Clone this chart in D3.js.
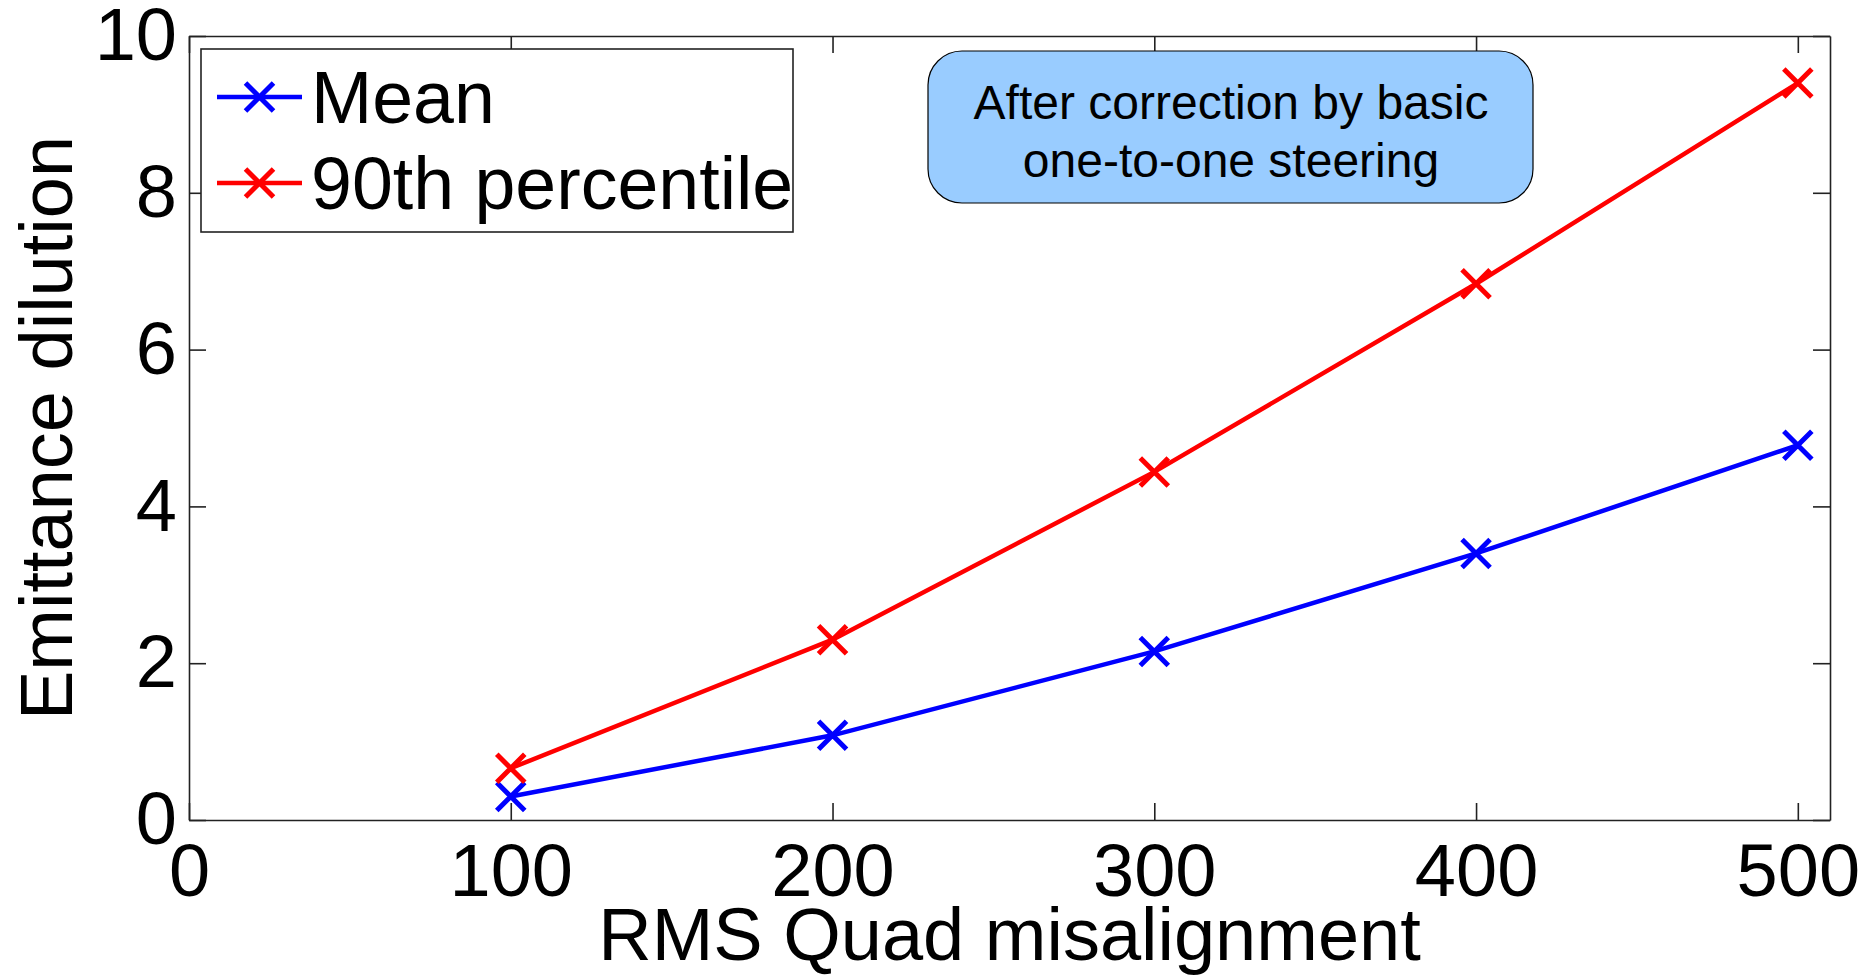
<!DOCTYPE html>
<html>
<head>
<meta charset="utf-8">
<script src="https://cdn.jsdelivr.net/npm/d3@7"></script>
<style>
  html, body { margin: 0; padding: 0; background: #fff; }
  svg { display: block; font-family: "Liberation Sans", Arial, Helvetica, sans-serif; }
</style>
</head>
<body>
<svg id="chart" width="1871" height="977"></svg>
<script>
// ---- data ----
const xValues = [100, 200, 300, 400, 500];
const meanValues = [0.30, 1.08, 2.15, 3.40, 4.78];
const p90Values = [0.66, 2.30, 4.44, 6.84, 9.40];
const xTicks = [0, 100, 200, 300, 400, 500];
const yTicks = [0, 2, 4, 6, 8, 10];
const seriesNames = ["Mean", "90th percentile"];
const seriesColors = ["#0000ff", "#ff0000"];
const xLabel = "RMS Quad misalignment";
const yLabel = "Emittance dilution";
const noteLines = ["After correction by basic", "one-to-one steering"];

// ---- layout ----
const W = 1871, H = 977;
const L = 189, R = 1830, T = 36, B = 820;
const svg = d3.select("#chart");

const x = d3.scaleLinear().domain([0, 510]).range([L, R]);
const y = d3.scaleLinear().domain([0, 10]).range([B, T]);

const tickLen = 17;
const axisColor = "#222";

function styleAxis(g, showLabels) {
  g.selectAll(".domain").attr("stroke", axisColor).attr("stroke-width", 1.6);
  g.selectAll(".tick line").attr("stroke", axisColor).attr("stroke-width", 1.6);
  if (showLabels) {
    g.selectAll(".tick text").attr("fill", "#000").style("font-size", "74px");
  } else {
    g.selectAll(".tick text").remove();
  }
}

// bottom
svg.append("g").attr("transform", `translate(0,${B})`)
  .call(d3.axisBottom(x).tickValues(xTicks).tickSizeInner(-tickLen).tickSizeOuter(0).tickPadding(23).tickFormat(d3.format("d")))
  .call(g => styleAxis(g, true));
// top
svg.append("g").attr("transform", `translate(0,${T})`)
  .call(d3.axisTop(x).tickValues(xTicks).tickSizeInner(-tickLen).tickSizeOuter(0))
  .call(g => styleAxis(g, false));
// left
svg.append("g").attr("transform", `translate(${L},0)`)
  .call(d3.axisLeft(y).tickValues(yTicks).tickSizeInner(-tickLen).tickSizeOuter(0).tickPadding(12).tickFormat(d3.format("d")))
  .call(g => styleAxis(g, true));
// right
svg.append("g").attr("transform", `translate(${R},0)`)
  .call(d3.axisRight(y).tickValues(yTicks).tickSizeInner(-tickLen).tickSizeOuter(0))
  .call(g => styleAxis(g, false));

// axis labels
svg.append("text")
  .attr("x", (L + R) / 2).attr("y", 960)
  .attr("text-anchor", "middle")
  .style("font-size", "74px").attr("fill", "#000")
  .text(xLabel);

svg.append("text")
  .attr("transform", `translate(72,${(T + B) / 2}) rotate(-90)`)
  .attr("text-anchor", "middle")
  .style("font-size", "74px").attr("fill", "#000")
  .text(yLabel);

// series
const series = [meanValues, p90Values];
const line = d3.line().x((d, i) => x(xValues[i])).y(d => y(d));
const mk = 14;

function drawCross(g, cx, cy, color, size) {
  g.append("path")
    .attr("d", `M${cx - size},${cy - size}L${cx + size},${cy + size}M${cx - size},${cy + size}L${cx + size},${cy - size}`)
    .attr("stroke", color).attr("stroke-width", 5).attr("fill", "none");
}

series.forEach((vals, si) => {
  const g = svg.append("g");
  g.append("path").datum(vals)
    .attr("d", line)
    .attr("fill", "none")
    .attr("stroke", seriesColors[si])
    .attr("stroke-width", 4.5);
  vals.forEach((v, i) => drawCross(g, x(xValues[i]), y(v), seriesColors[si], mk));
});

// legend
const lg = svg.append("g");
lg.append("rect").attr("x", 201).attr("y", 49).attr("width", 592).attr("height", 183)
  .attr("fill", "#fff").attr("stroke", axisColor).attr("stroke-width", 1.6);
const legendY = [97, 183];
seriesNames.forEach((name, i) => {
  lg.append("line").attr("x1", 217).attr("x2", 302).attr("y1", legendY[i]).attr("y2", legendY[i])
    .attr("stroke", seriesColors[i]).attr("stroke-width", 4.5);
  drawCross(lg, 259.5, legendY[i], seriesColors[i], mk);
  lg.append("text").attr("x", 311).attr("y", legendY[i] + 26)
    .style("font-size", "73.5px").attr("fill", "#000").text(name);
});

// annotation box
const ng = svg.append("g");
ng.append("rect").attr("x", 928).attr("y", 51).attr("width", 605).attr("height", 152)
  .attr("rx", 34).attr("ry", 34)
  .attr("fill", "#99ccff").attr("stroke", "#000").attr("stroke-width", 1.2);
noteLines.forEach((t, i) => {
  ng.append("text").attr("x", 1231).attr("y", 119 + i * 58)
    .attr("text-anchor", "middle")
    .style("font-size", "48px").attr("fill", "#000").text(t);
});
</script>
</body>
</html>
